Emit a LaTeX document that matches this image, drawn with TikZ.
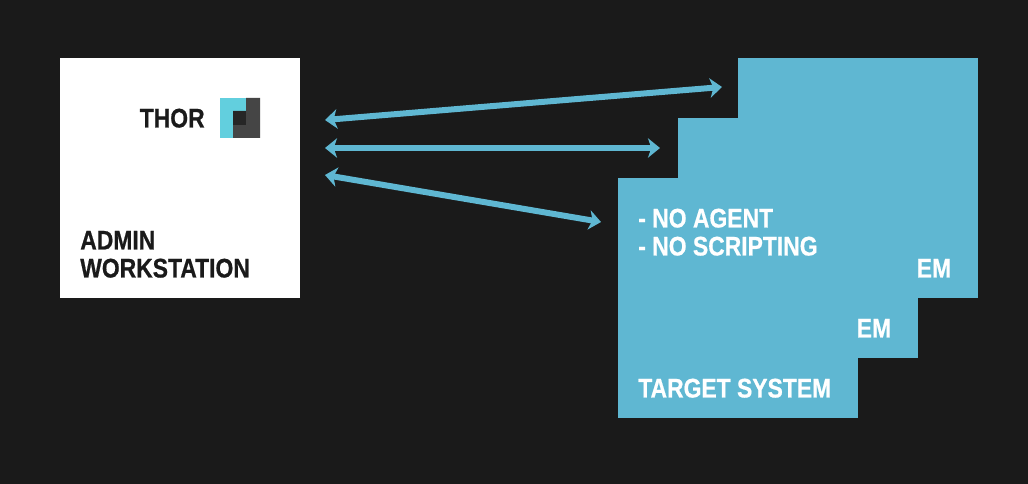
\documentclass[tikz,border=0pt]{standalone}
\usepackage{fontspec}
\setmainfont{Liberation Sans}[FakeStretch=0.85,BoldFeatures={FakeBold=0.6}]
\usetikzlibrary{arrows.meta}
\definecolor{bg}{HTML}{1A1A1A}
\definecolor{tblue}{HTML}{5FB7D2}
\definecolor{logocyan}{HTML}{62CFDE}
\definecolor{logogrey}{HTML}{454545}
\definecolor{logodark}{HTML}{262626}
\tikzset{
  px/.style={x=0.75pt,y=-0.75pt},
  target/.style={fill=tblue,draw=none,inner sep=0pt,minimum size=180pt,anchor=north west},
  adminbox/.style={fill=white,draw=none,inner sep=0pt,minimum size=179.6pt,anchor=north west},
  lab/.style={font=\bfseries\fontsize{20.2pt}{21pt}\selectfont,anchor=base west,inner sep=0pt,text=white},
  darklab/.style={lab,text=bg},
  link/.style={draw=tblue,line width=4.5pt,{Stealth[length=9pt,width=14.5pt,inset=2.5pt]}-{Stealth[length=9pt,width=14.5pt,inset=2.5pt]}},
}
\begin{document}
\begin{tikzpicture}[px]
\path[use as bounding box,fill=bg] (0,0) rectangle (1028,484);
\node[adminbox] (admin) at (60,58) {};
\node[target] (t3) at (738.2,58) {};
\node[target] (t2) at (678.2,118) {};
\node[target] (t1) at (618.2,178) {};
\fill[logocyan] (220,98) rectangle (260,138);
\fill[logogrey] (246,98) rectangle (260,138) (233,111) rectangle (260,138);
\fill[logodark] (233,111) rectangle (246,125);
\node[darklab] (thor) at (139.5,127.5) {THOR};
\node[darklab] (adm1) at (80,249.5) {ADMIN};
\node[darklab] (adm2) at (80,277.5) {WORKSTATION};
\node[lab] (na) at (638,227.5) {- NO AGENT};
\node[lab] (ns) at (638,255.5) {- NO SCRIPTING};
\node[lab] (em1) at (916.5,277.5) {EM};
\node[lab] (em2) at (856.5,337.5) {EM};
\node[lab] (ts) at (638,397.5) {TARGET SYSTEM};
\coordinate (a1) at (325,120);
\coordinate (a2) at (325,148);
\coordinate (a3) at (325,175);
\coordinate (b1) at (722,87);
\coordinate (b2) at (660,148);
\coordinate (b3) at (601,222);
\draw[link] (a1) -- (b1);
\draw[link] (a2) -- (b2);
\draw[link] (a3) -- (b3);
\end{tikzpicture}
\end{document}
